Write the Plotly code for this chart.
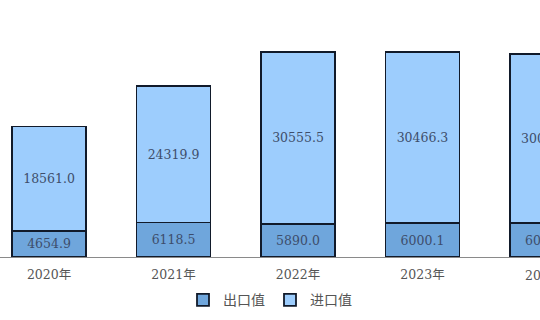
import plotly.graph_objects as go

years = ["2020年", "2021年", "2022年", "2023年", "2024年"]
export_vals = [4654.9, 6118.5, 5890.0, 6000.1, 6008.6]
import_vals = [18561.0, 24319.9, 30555.5, 30466.3, 30012.4]
series_names = ["出口值", "进口值"]

export_color = "#6fa6dc"
import_color = "#9dcdfd"
edge_color = "#111a2a"
label_color = "#3d4d6b"

x_range = [-0.394, 3.944]

fig = go.Figure()
for name, vals, col in [(series_names[0], export_vals, export_color),
                        (series_names[1], import_vals, import_color)]:
    fig.add_trace(go.Bar(
        x=list(range(len(years))), y=vals, name=name,
        marker=dict(color=col, line=dict(color=edge_color, width=1.8)),
        width=0.595,
        text=[f"{v:.1f}" for v in vals],
        textposition="inside", insidetextanchor="middle",
        textangle=0,
        textfont=dict(family="DejaVu Serif", size=12.5, color=label_color),
        cliponaxis=True,
    ))

# label of the category cut off at the right edge
last_i = len(years) - 1
fig.add_annotation(
    xref="paper", yref="paper",
    x=(last_i - x_range[0]) / (x_range[1] - x_range[0]), y=0,
    yshift=-18, xanchor="center", yanchor="middle",
    text=years[last_i], showarrow=False,
    font=dict(family="DejaVu Serif, Noto Sans CJK SC", size=12.5, color="#555555"),
)

fig.update_layout(
    width=540, height=320,
    margin=dict(l=0, r=0, t=10, b=63),
    barmode="stack",
    plot_bgcolor="white", paper_bgcolor="white",
    showlegend=True,
    legend=dict(orientation="h", x=0.5, xanchor="center", y=-0.175, yanchor="middle",
                traceorder="normal",
                font=dict(family="Noto Sans CJK SC", size=14, color="#555555"),
                itemwidth=30, tracegroupgap=0),
    xaxis=dict(range=x_range, tickmode="array",
               tickvals=list(range(len(years))), ticktext=years,
               showline=True, linecolor="#8a8a8a", linewidth=1,
               showgrid=False, zeroline=False,
               ticks="outside", ticklen=6, tickcolor="rgba(0,0,0,0)",
               tickfont=dict(family="DejaVu Serif, Noto Sans CJK SC", size=12.5, color="#555555")),
    yaxis=dict(range=[0, 43911], visible=False, showgrid=False, zeroline=False),
)

fig.write_html("out.html")
